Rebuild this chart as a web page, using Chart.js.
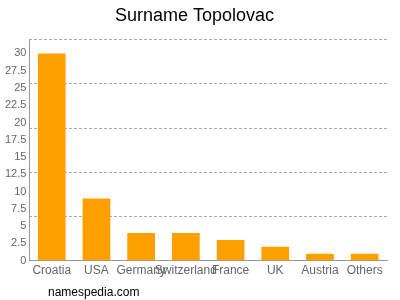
<!DOCTYPE html>
<html>
<head>
<meta charset="utf-8">
<script src="https://cdn.jsdelivr.net/npm/chart.js@4/dist/chart.umd.min.js"></script>
<style>
  body { margin: 0; background: #fff; }
  #wrap { position: relative; width: 400px; height: 300px; }
  #site { position: absolute; left: 48px; top: 285px; font: 12px "Liberation Sans", Arial, sans-serif; color: #000; }
</style>
</head>
<body>
<div id="wrap">
  <canvas id="surnameChart" width="400" height="300"></canvas>
  <div id="site">namespedia.com</div>
</div>
<script>
const countries = ['Croatia', 'USA', 'Germany', 'Switzerland', 'France', 'UK', 'Austria', 'Others'];
const counts = [30, 9, 4, 4, 3, 2, 1, 1];
const yTicks = [0, 2.5, 5, 7.5, 10, 12.5, 15, 17.5, 20, 22.5, 25, 27.5, 30];
const yMax = 32;
const gridLines = [0, 6.4, 12.8, 19.2, 25.6, 32];

const font = '"Liberation Sans", Arial, sans-serif';

new Chart(document.getElementById('surnameChart').getContext('2d'), {
    type: 'bar',
    data: {
        labels: countries,
        datasets: [{
            data: counts,
            backgroundColor: '#ffa000',
            borderWidth: 0,
            barPercentage: 0.62,
            categoryPercentage: 1
        }]
    },
    options: {
        responsive: false,
        animation: false,
        layout: { padding: { left: 2, right: 13, top: 0, bottom: 22 } },
        plugins: {
            legend: { display: false },
            tooltip: { enabled: false },
            title: {
                display: true,
                text: 'Surname Topolovac',
                color: '#000',
                font: { family: font, size: 18, weight: 'normal' },
                padding: { top: 5, bottom: 13 }
            }
        },
        scales: {
            x: {
                grid: { display: false, tickLength: 3 },
                border: { color: '#999' },
                ticks: {
                    color: '#666',
                    font: { family: font, size: 12 },
                    maxRotation: 0,
                    autoSkip: false,
                    padding: 0
                }
            },
            y: {
                min: 0,
                max: yMax,
                afterBuildTicks: axis => { axis.ticks = yTicks.map(v => ({ value: v })); },
                grid: { display: false, drawTicks: false },
                border: { color: '#999' },
                ticks: {
                    color: '#666',
                    font: { family: font, size: 11 },
                    padding: 3
                }
            },
            y2: {
                position: 'left',
                min: 0,
                max: yMax,
                afterBuildTicks: axis => { axis.ticks = gridLines.map(v => ({ value: v })); },
                afterFit: axis => { axis.width = 0; },
                ticks: { display: false },
                border: { display: false, dash: [3, 2] },
                grid: {
                    color: ctx => ctx.tick && ctx.tick.value === 0 ? 'rgba(0,0,0,0)' : '#aaa',
                    drawTicks: false
                }
            }
        }
    }
});
</script>
</body>
</html>
